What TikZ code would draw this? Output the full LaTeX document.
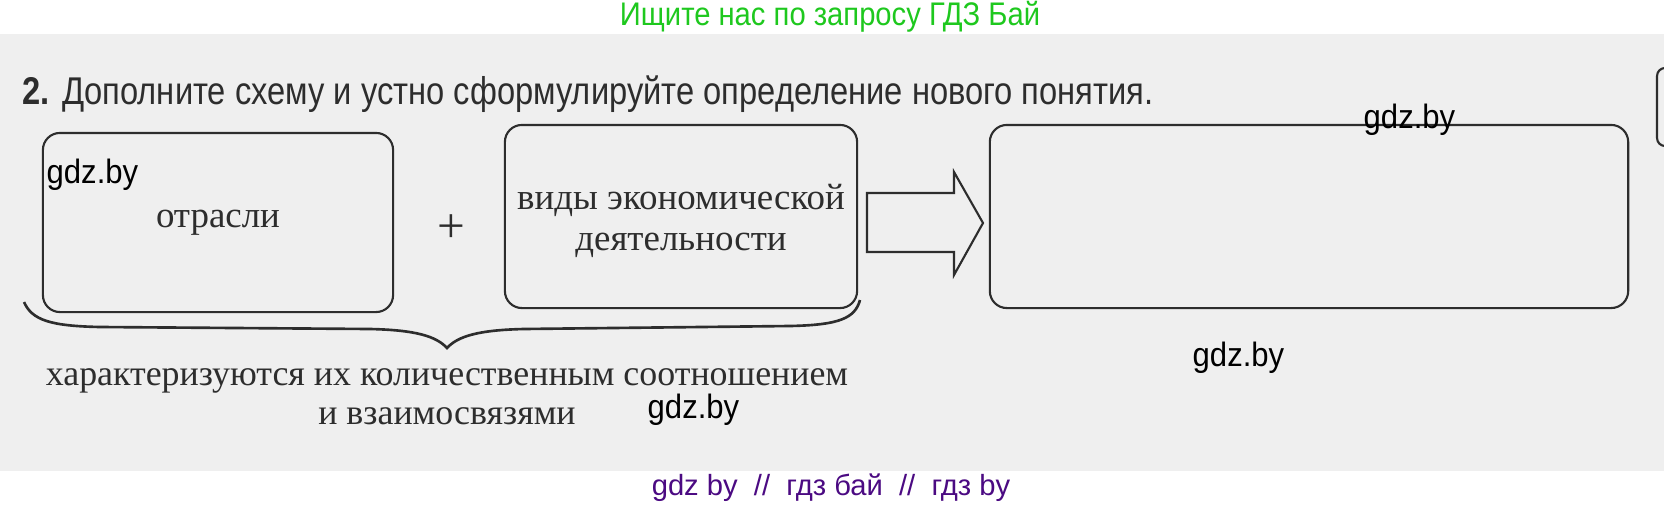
\documentclass[tikz,border=0pt]{standalone}
\usepackage{fontspec}
\setmainfont{Liberation Serif}
\newfontfamily\sansfont{Liberation Sans}
\definecolor{ink}{RGB}{45,45,45}
\definecolor{scan}{RGB}{239,239,239}
\definecolor{gdzgreen}{RGB}{30,200,30}
\definecolor{gdzpurple}{RGB}{75,10,130}
\begin{document}
\begin{tikzpicture}[x=0.01cm, y=-0.01cm,
    box/.style={draw=ink, line width=0.6pt, rounded corners=0.17cm,
      minimum height=1.83cm, inner sep=0pt, text=ink, align=center,
      font=\fontsize{10.5}{11.6}\selectfont},
    wm/.style={anchor=base west, inner sep=0pt,
      font=\sansfont\fontsize{9.6}{10}\selectfont},
    band/.style={anchor=base, inner sep=0pt,
      font=\sansfont\fontsize{8.3}{10}\selectfont}]
  \useasboundingbox (0,0) rectangle (1664,506);
  \fill[scan] (0,34) rectangle (1664,471);
  % header and footer
  \node[band, text=gdzgreen] (poisk) at (830,25) {\scalebox{1}[1.12]{Ищите нас по запросу ГДЗ Бай}};
  \node[band, text=gdzpurple] (sajt) at (831,495) {gdz by\ \ //\ \ гдз бай\ \ //\ \ гдз by};
  % task
  \node[anchor=base west, inner sep=0pt, text=ink,
    font=\sansfont\fontsize{11}{12}\selectfont] (zadanie) at (22,104)
    {\scalebox{0.845}[1]{\textbf{2.} Дополните схему и устно сформулируйте определение нового понятия.}};
  % scheme
  \node[box, minimum width=3.5cm, minimum height=1.79cm] (otrasli) at (218,222.5) {отрасли};
  \node[box, minimum width=3.52cm] (vidy) at (681,216.5) {\rule{0pt}{9.5pt}виды экономической\\деятельности};
  \node[box, minimum width=6.38cm] (itog) at (1309,216.5) {};
  \node[inner sep=0pt, text=ink, font=\fontsize{14}{14}\selectfont] (plus) at (451,229) {+};
  \draw[ink, line width=0.6pt, line join=miter]
    (867,193) -- (954,193) -- (954,172) -- (983,223)
    -- (954,275) -- (954,252) -- (867,252) -- cycle;
  \draw[ink, line width=0.75pt]
    (24,302) .. controls (32,320) and (50,326) .. (100,327) -- (370,329)
    .. controls (415,330) and (436,336) .. (447,348)
    .. controls (458,336) and (479,330) .. (524,329) -- (790,326)
    .. controls (840,325) and (855,318) .. (860,300);
  \node[inner sep=0pt, text=ink, align=center,
    font=\fontsize{10.2}{11.1}\selectfont] (opis) at (447,397)
    {характеризуются их количественным соотношением\\и взаимосвязями};
  % box cut at the edge
  \begin{scope}
    \clip (0,0) rectangle (1664,506);
    \draw[ink, line width=0.6pt, rounded corners=0.08cm] (1657,68) rectangle (1720,146);
  \end{scope}
  % watermarks
  \node[wm] (wm1) at (46,183) {\scalebox{0.92}[1]{gdz.by}};
  \node[wm] (wm2) at (1363,128) {\scalebox{0.92}[1]{gdz.by}};
  \node[wm] (wm3) at (1192,366) {\scalebox{0.92}[1]{gdz.by}};
  \node[wm] (wm4) at (647,418) {\scalebox{0.92}[1]{gdz.by}};
\end{tikzpicture}
\end{document}
